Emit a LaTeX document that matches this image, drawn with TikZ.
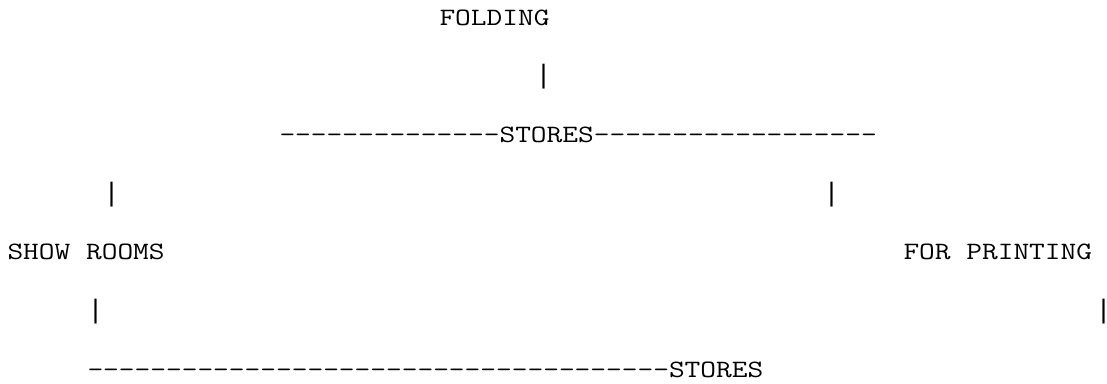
\documentclass[tikz,border=0pt]{standalone}
\usepackage{fontspec}
\newfontfamily\asciifont{Latin Modern Mono}[FakeStretch=1.224]
\newfontfamily\barfont{Liberation Mono}

\begin{document}
\begin{tikzpicture}[x=12pt, y=-44pt,
    ascii/.style={anchor=base west, inner sep=0pt, outer sep=0pt, font=\asciifont\fontsize{18.7}{22}\selectfont},
    bar/.style={ascii, font=\barfont\fontsize{20}{24}\selectfont}]
    \useasboundingbox (-5.625pt,18.75pt) rectangle (824.625pt,-268.5pt);

    % one column = one character, one row = one text line
    \node[ascii] (folding)   at (27,0) {FOLDING};
    \node[bar]   (barfold)   at (33,1) {|};
    \node[ascii] (storestop) at (17,2) {--------------STORES------------------};
    \node[bar]   (barleft)   at (6,3)  {|};
    \node[bar]   (barright)  at (51,3) {|};
    \node[ascii] (showrooms) at (0,4)  {SHOW ROOMS};
    \node[ascii] (printing)  at (56,4) {FOR PRINTING};
    \node[bar]   (barshow)   at (5,5)  {|};
    \node[bar]   (barprint)  at (68,5) {|};
    \node[ascii] (storesbot) at (5,6)  {-------------------------------------STORES};

\end{tikzpicture}
\end{document}
